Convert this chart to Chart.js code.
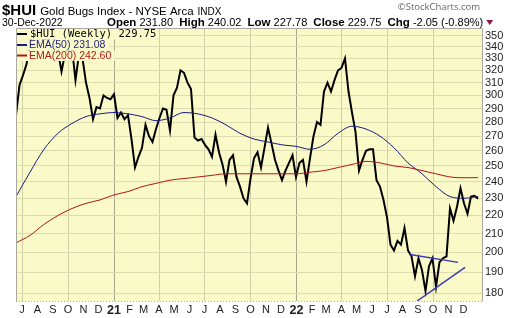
<!DOCTYPE html>
<html>
<head>
<meta charset="utf-8">
<script src="https://cdn.jsdelivr.net/npm/chart.js@4.4.0/dist/chart.umd.min.js"></script>
<style>
  html, body { margin: 0; padding: 0; background: #fff; }
  #wrap { width: 520px; height: 318px; }
</style>
</head>
<body>
<div id="wrap"><canvas id="chart" width="520" height="318"></canvas></div>
<script>
// weekly closes, first week ends 19-Jun-2020, last 30-Dec-2022
const startDate = Date.UTC(2020, 5, 19);
const hui = [
  285, 308, 316, 325, 342, 356, 368, 352, 344, 350,
  340, 346, 336, 319, 334, 338, 339, 312, 334, 330,
  310, 298, 282, 291, 290, 300, 298, 297, 301, 283,
  287, 282, 285, 268, 249, 256, 262, 278, 270, 266,
  275, 283, 290, 289, 274, 300, 306, 320, 318, 310,
  305, 269, 267, 268, 264, 261, 256, 271, 259, 251,
  240, 254, 257, 243, 237, 230, 227, 242, 255, 259,
  249, 262, 276, 265, 254, 247, 241, 247, 252, 257,
  243, 252, 254, 240, 255, 270, 280, 278, 303, 310,
  303, 312, 320, 322, 330, 303, 287, 273, 247, 254,
  260, 261, 261, 241, 237, 229, 219, 204, 201, 206,
  204, 213, 201, 198, 188, 197, 191, 181, 193, 197,
  183, 195, 197, 198, 224, 217, 225, 236, 227, 221,
  231, 231.5, 229.75
];

// moving averages read every 4 weeks
const emaWeeks = [0, 4, 8, 12, 16, 20, 24, 28, 32, 36, 40, 44, 48, 52, 56, 60, 64,
  68, 72, 76, 80, 84, 88, 92, 96, 100, 104, 108, 112, 116, 120, 124, 128, 132];
const ema50 = [231, 246, 261, 272, 279, 284, 286, 287, 286, 284, 281, 283, 287, 286, 283, 278, 272,
  268, 266, 264, 263, 261, 264, 272, 277, 275, 270, 262, 252, 245, 237, 231, 230, 231.08];
const ema200 = [205, 209, 215, 220, 224, 227, 229, 232, 234, 237, 239, 241, 242, 243, 244, 245, 245,
  245, 245, 245, 245, 246, 247, 249, 251, 253, 252, 250, 249, 247, 245, 243, 242.5, 242.6];

// triangle trendlines
const upperWeeks = [112.6, 126.3];
const upperValues = [198.9, 194.9];
const lowerWeeks = [114.6, 128.3];
const lowerValues = [176.4, 192.4];

const yTicks = [180, 190, 200, 210, 220, 230, 240, 250, 260, 270, 280, 290, 300, 310, 320, 330, 340, 350];
const monthLetters = ['J', 'F', 'M', 'A', 'M', 'J', 'J', 'A', 'S', 'O', 'N', 'D'];

const bg = '#fafac8';
const dayMs = 86400000;

// month starts Jul-2020 .. Dec-2022, as days since startDate
const monthTicks = [];
for (let y = 2020; y <= 2022; y++) {
  for (let m = 0; m < 12; m++) {
    if (y === 2020 && m < 6) continue;
    monthTicks.push({ day: (Date.UTC(y, m, 1) - startDate) / dayMs, m: m, y: y });
  }
}
const monthAt = v => monthTicks.find(t => Math.abs(t.day - v) < 0.5);

const toPoints = (weeks, vals) => weeks.map((w, k) => ({ x: w * 7, y: vals[k] }));

const chartDecor = {
  id: 'chartDecor',
  beforeDraw(chart) {
    const { ctx, chartArea: a } = chart;
    ctx.save();
    ctx.fillStyle = '#fff';
    ctx.fillRect(0, 0, chart.width, chart.height);
    ctx.fillStyle = bg;
    ctx.fillRect(a.left, a.top, a.right - a.left, a.bottom - a.top);
    ctx.restore();
  },
  afterDatasetsDraw(chart) {
    const { ctx, chartArea: a } = chart;
    ctx.save();
    const rows = [
      { text: '$HUI (Weekly) 229.75', color: '#000', font: '10.5px "DejaVu Sans Mono"', y: 34 },
      { text: 'EMA(50) 231.08', color: '#1c1c80', font: '10.5px "Liberation Sans"', y: 45 },
      { text: 'EMA(200) 242.60', color: '#b01818', font: '10.5px "Liberation Sans"', y: 55.5 }
    ];
    ctx.textBaseline = 'middle';
    rows.forEach((r, k) => {
      ctx.font = r.font;
      const w = ctx.measureText(r.text).width;
      ctx.fillStyle = bg;
      const top = k === 0 ? a.top + 0.5 : rows[k - 1].y + 5.5;
      ctx.fillRect(a.left + 0.5, top, 14 + w + 2, r.y + 5.5 - top);
      ctx.strokeStyle = r.color;
      ctx.lineWidth = 2;
      ctx.beginPath();
      ctx.moveTo(a.left + 1, r.y);
      ctx.lineTo(a.left + 11, r.y);
      ctx.stroke();
      ctx.fillStyle = r.color;
      ctx.fillText(r.text, a.left + (k === 0 ? 14 : 13), r.y + 0.5);
    });
    ctx.restore();
  },
  afterDraw(chart) {
    const { ctx, chartArea: a } = chart;
    ctx.save();
    ctx.strokeStyle = '#a8a8a0';
    ctx.lineWidth = 1;
    ctx.beginPath();
    ctx.moveTo(a.left + 0.5, a.bottom);
    ctx.lineTo(a.left + 0.5, a.top + 0.5);
    ctx.lineTo(a.right + 0.5, a.top + 0.5);
    ctx.lineTo(a.right + 0.5, a.bottom);
    ctx.stroke();
    ctx.setLineDash([1, 2]);
    ctx.beginPath();
    ctx.moveTo(a.left, a.bottom + 0.5);
    ctx.lineTo(a.right + 1, a.bottom + 0.5);
    ctx.stroke();
    ctx.setLineDash([]);

    // header
    ctx.textBaseline = 'alphabetic';
    ctx.fillStyle = '#000';
    let x = 2;
    const put = (txt, font, y, color) => {
      ctx.font = font;
      ctx.fillStyle = color || '#000';
      ctx.fillText(txt, x, y);
      x += ctx.measureText(txt).width;
    };
    put('$HUI', 'bold 15px "Liberation Sans"', 15);
    x += 4;
    put('Gold Bugs Index - NYSE Arca', '11.5px "Liberation Sans"', 15);
    x += 4;
    put('INDX', '10px "Liberation Sans"', 15);

    ctx.font = '9.5px "Open Sans"';
    ctx.fillStyle = '#666';
    ctx.textAlign = 'right';
    ctx.fillText('\u00a9StockCharts.com', 480, 10);
    ctx.textAlign = 'left';

    x = 2;
    put('30-Dec-2022', '10.5px "Liberation Sans"', 26);
    x = 107;
    const parts = [['Open', true], [' 231.80  ', false], ['High', true], [' 240.02  ', false],
      ['Low', true], [' 227.78  ', false], ['Close', true], [' 229.75  ', false],
      ['Chg', true], [' -2.05 (-0.89%)', false]];
    parts.forEach(p => put(p[0], (p[1] ? 'bold 11.5px' : '11px') + ' "Liberation Sans"', 26));
    ctx.fillStyle = '#8b1a4a';
    ctx.beginPath();
    ctx.moveTo(x + 3, 20);
    ctx.lineTo(x + 10, 20);
    ctx.lineTo(x + 6.5, 25);
    ctx.closePath();
    ctx.fill();
    ctx.restore();
  }
};

new Chart(document.getElementById('chart'), {
  type: 'line',
  data: {
    datasets: [
      {
        label: 'EMA(200)',
        data: toPoints(emaWeeks, ema200),
        borderColor: '#b01818',
        borderWidth: 1,
        pointRadius: 0,
        cubicInterpolationMode: 'monotone'
      },
      {
        label: 'EMA(50)',
        data: toPoints(emaWeeks, ema50),
        borderColor: '#1c1c80',
        borderWidth: 1,
        pointRadius: 0,
        cubicInterpolationMode: 'monotone'
      },
      {
        label: 'upper',
        data: toPoints(upperWeeks, upperValues),
        borderColor: '#3a3ab8',
        borderWidth: 1.5,
        pointRadius: 0
      },
      {
        label: 'lower',
        data: toPoints(lowerWeeks, lowerValues),
        borderColor: '#3a3ab8',
        borderWidth: 1.5,
        pointRadius: 0
      },
      {
        label: '$HUI',
        data: hui.map((v, i) => ({ x: i * 7, y: v })),
        borderColor: '#000',
        borderWidth: 2,
        pointRadius: 0,
        tension: 0
      }
    ]
  },
  options: {
    responsive: false,
    animation: false,
    layout: { padding: { left: 16, top: 28, right: 0, bottom: 0 } },
    plugins: {
      legend: { display: false },
      tooltip: { enabled: false }
    },
    scales: {
      x: {
        type: 'linear',
        min: 0,
        max: 932,
        afterBuildTicks: s => { s.ticks = monthTicks.map(t => ({ value: t.day })); },
        afterFit: s => { s.height = 17; },
        border: { display: false },
        grid: {
          drawTicks: false,
          color: c => {
            const t = c.tick && monthAt(c.tick.value);
            if (!t || t.m % 3 !== 0) return 'rgba(0,0,0,0)';
            return t.m === 0 ? '#a6a68a' : '#cfcfa4';
          }
        },
        ticks: {
          autoSkip: false,
          maxRotation: 0,
          padding: 2,
          color: '#222',
          font: c => {
            const t = c.tick && monthAt(c.tick.value);
            return t && t.m === 0
              ? { family: '"Liberation Sans"', size: 12.5, weight: 'bold' }
              : { family: '"Liberation Sans"', size: 11 };
          },
          callback: v => {
            const t = monthAt(v);
            if (!t) return '';
            return t.m === 0 ? String(t.y).slice(2) : monthLetters[t.m];
          }
        }
      },
      y: {
        type: 'logarithmic',
        position: 'right',
        min: 176.4,
        max: 357,
        afterBuildTicks: s => { s.ticks = yTicks.map(v => ({ value: v })); },
        afterFit: s => { s.width = 38; },
        border: { display: false },
        grid: { drawTicks: false, color: '#dcdcb0' },
        ticks: {
          autoSkip: false,
          padding: 3,
          color: '#222',
          font: { family: '"Liberation Sans"', size: 11 },
          callback: v => String(v)
        }
      }
    }
  },
  plugins: [chartDecor]
});
</script>
</body>
</html>
